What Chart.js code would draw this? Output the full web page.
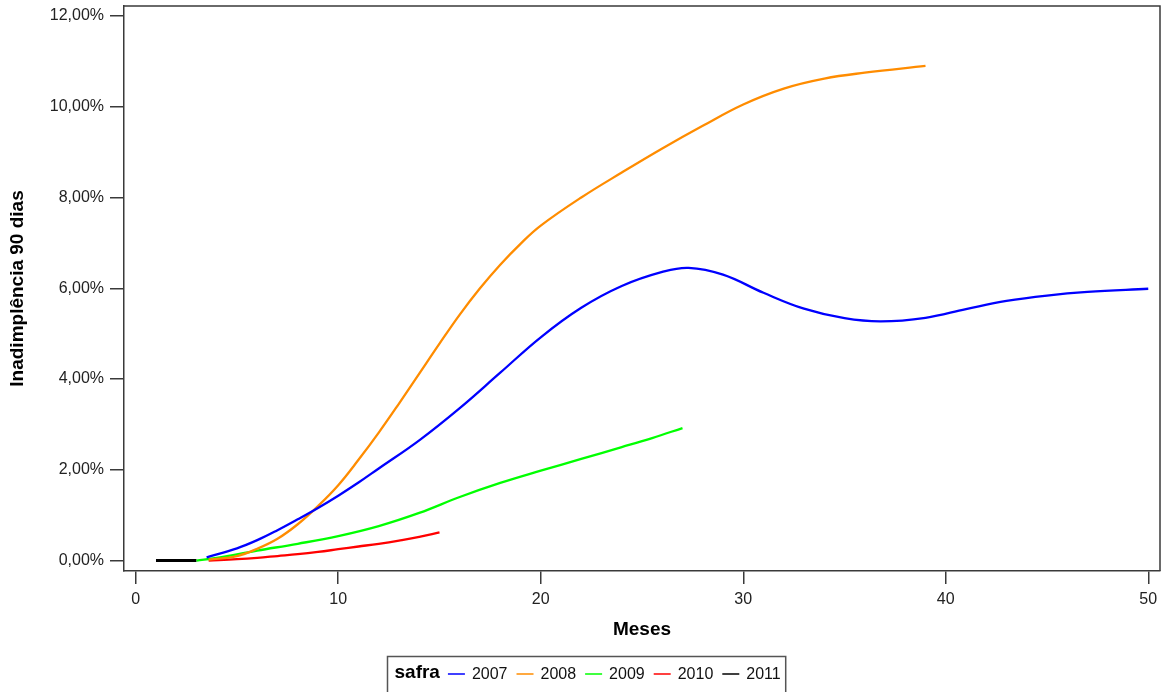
<!DOCTYPE html>
<html lang="pt-BR">
<head>
<meta charset="utf-8">
<title>Inadimplência 90 dias por safra</title>
<script src="https://cdn.jsdelivr.net/npm/chart.js@4.4.1/dist/chart.umd.min.js"></script>
<style>
    html, body { margin: 0; padding: 0; background: #fff; }
    #grafico { display: block; }
</style>
</head>
<body>
<canvas id="grafico" width="1161" height="692"></canvas>
<script>
// valores (meses desde a concessão, inadimplência em %)
const safras = ['2007', '2008', '2009', '2010', '2011'];
const cores = ['#0000FF', 'rgb(255,140,0)', '#00FF00', '#FF0000', '#000000'];

const meses2007 = [3.5, 5, 6, 7, 8, 9, 10, 11, 12, 14, 16, 18, 20, 22, 24, 26, 27.3, 29, 31, 33, 35, 36.8, 39, 41, 43, 45, 47, 50];
const inad2007 = [0.07, 0.27, 0.45, 0.67, 0.91, 1.16, 1.43, 1.72, 2.03, 2.65, 3.36, 4.14, 4.92, 5.57, 6.05, 6.36, 6.45, 6.30, 5.90, 5.55, 5.34, 5.27, 5.35, 5.54, 5.72, 5.84, 5.92, 5.99];

const meses2008 = [3.6, 5, 6, 7, 8, 9, 10, 11, 12, 13, 14, 15, 16, 17, 18, 19, 20, 22, 24, 26, 28, 30, 32, 34, 36, 39];
const inad2008 = [0.02, 0.10, 0.26, 0.48, 0.80, 1.20, 1.66, 2.22, 2.82, 3.46, 4.12, 4.78, 5.42, 6.00, 6.52, 6.98, 7.38, 8.00, 8.55, 9.08, 9.58, 10.05, 10.40, 10.62, 10.75, 10.90];

const meses2009 = [3, 4, 6, 8, 10, 12, 14, 16, 18, 20, 22, 24, 25.5, 27];
const inad2009 = [0.0, 0.06, 0.22, 0.37, 0.54, 0.76, 1.05, 1.40, 1.71, 1.98, 2.24, 2.50, 2.70, 2.92];

const meses2010 = [3.6, 5, 6, 7, 8, 9, 10, 11, 12, 13, 14, 15];
const inad2010 = [0.0, 0.03, 0.06, 0.10, 0.14, 0.19, 0.25, 0.31, 0.37, 0.44, 0.52, 0.62];

const meses2011 = [1, 2, 3];
const inad2011 = [0, 0, 0];

const xTicks = [0, 10, 20, 30, 40, 50];
const yTicks = [0, 2, 4, 6, 8, 10, 12];

const FONTE = "'Liberation Sans', Arial, sans-serif";
const COR_EIXO = '#3a3a3a';

const pontos = (meses, valores) => meses.map((m, i) => ({ x: m, y: valores[i] }));

// moldura em volta da área do gráfico (topo e direita)
const moldura = {
    id: 'moldura',
    afterDraw(chart) {
        const { ctx, chartArea } = chart;
        ctx.save();
        ctx.strokeStyle = COR_EIXO;
        ctx.lineWidth = 1.5;
        ctx.beginPath();
        ctx.moveTo(chartArea.left, chartArea.top);
        ctx.lineTo(chartArea.right, chartArea.top);
        ctx.lineTo(chartArea.right, chartArea.bottom);
        ctx.stroke();
        ctx.restore();
    }
};

// legenda em linha com o título "safra"
const legendaSafra = {
    id: 'legendaSafra',
    afterDraw(chart) {
        const ctx = chart.ctx;
        const datasets = chart.data.datasets;
        ctx.save();
        ctx.font = "bold 19px " + FONTE;
        const wTitulo = ctx.measureText('safra').width;
        ctx.font = "16px " + FONTE;
        let largura = 7 + wTitulo;
        datasets.forEach(ds => {
            largura += 8 + 17 + 7 + ctx.measureText(ds.label).width;
        });
        largura += 9;

        const esquerda = Math.round(586 - largura / 2) + 0.5;
        const topo = 656.5;
        const yTexto = 674;

        ctx.strokeStyle = '#555';
        ctx.lineWidth = 1.5;
        ctx.strokeRect(esquerda, topo, largura, 60);

        ctx.textBaseline = 'middle';
        ctx.textAlign = 'left';
        ctx.fillStyle = '#000';
        ctx.font = "bold 19px " + FONTE;
        let x = esquerda + 7;
        ctx.fillText('safra', x, yTexto - 1);
        x += wTitulo + 8;

        ctx.font = "16px " + FONTE;
        datasets.forEach(ds => {
            ctx.strokeStyle = ds.borderColor;
            ctx.lineWidth = 1.5;
            ctx.beginPath();
            ctx.moveTo(x, yTexto);
            ctx.lineTo(x + 17, yTexto);
            ctx.stroke();
            x += 17 + 7;
            ctx.fillStyle = '#111';
            ctx.fillText(ds.label, x, yTexto + 1);
            x += ctx.measureText(ds.label).width + 9;
        });
        ctx.restore();
    }
};

document.addEventListener('DOMContentLoaded', () => {
    const series = [
        pontos(meses2007, inad2007),
        pontos(meses2008, inad2008),
        pontos(meses2009, inad2009),
        pontos(meses2010, inad2010),
        pontos(meses2011, inad2011)
    ];

    const ctx = document.getElementById('grafico').getContext('2d');
    new Chart(ctx, {
        type: 'line',
        data: {
            datasets: safras.map((s, i) => ({
                label: s,
                data: series[i],
                borderColor: cores[i],
                backgroundColor: cores[i],
                borderWidth: i === 4 ? 3 : 2.3,
                pointRadius: 0,
                pointHoverRadius: 0,
                fill: false,
                tension: 0.4
            }))
        },
        options: {
            responsive: false,
            animation: false,
            events: [],
            layout: {
                padding: { top: 6, right: 1, left: 0, bottom: 0 }
            },
            plugins: {
                legend: { display: false },
                tooltip: { enabled: false }
            },
            scales: {
                x: {
                    type: 'linear',
                    min: -0.58,
                    max: 50.58,
                    afterBuildTicks: scale => {
                        scale.ticks = xTicks.map(v => ({ value: v }));
                    },
                    afterFit: scale => {
                        scale.height = 121;
                        scale.paddingLeft = 0;
                        scale.paddingRight = 0;
                    },
                    ticks: {
                        color: '#222',
                        padding: 6,
                        maxRotation: 0,
                        font: { family: FONTE, size: 16 }
                    },
                    grid: {
                        drawOnChartArea: false,
                        tickLength: 13,
                        color: COR_EIXO,
                        lineWidth: 1.5
                    },
                    border: { color: COR_EIXO, width: 1.5 },
                    title: {
                        display: true,
                        text: 'Meses',
                        color: '#000',
                        font: { family: FONTE, size: 19, weight: 'bold' },
                        padding: { top: 0, bottom: 51 }
                    }
                },
                y: {
                    type: 'linear',
                    min: -0.23,
                    max: 12.22,
                    afterBuildTicks: scale => {
                        scale.ticks = yTicks.map(v => ({ value: v }));
                    },
                    afterFit: scale => {
                        scale.width = 124;
                        scale.paddingTop = 0;
                        scale.paddingBottom = 0;
                    },
                    ticks: {
                        color: '#222',
                        padding: 6,
                        font: { family: FONTE, size: 16 },
                        callback: v => v.toFixed(2).replace('.', ',') + '%'
                    },
                    grid: {
                        drawOnChartArea: false,
                        tickLength: 14,
                        color: COR_EIXO,
                        lineWidth: 1.5
                    },
                    border: { color: COR_EIXO, width: 1.5 },
                    title: {
                        display: true,
                        text: 'Inadimplência 90 dias',
                        color: '#000',
                        font: { family: FONTE, size: 19, weight: 'bold' },
                        padding: { top: 6, bottom: 0 }
                    }
                }
            }
        },
        plugins: [moldura, legendaSafra]
    });
});
</script>
</body>
</html>
